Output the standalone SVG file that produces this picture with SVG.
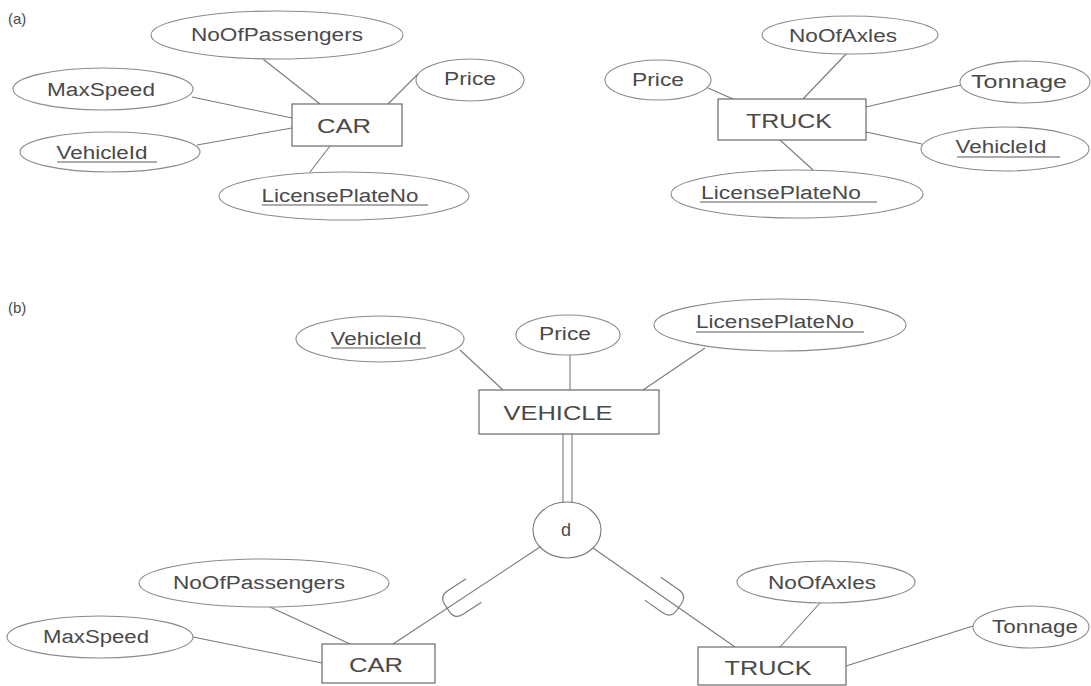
<svg xmlns="http://www.w3.org/2000/svg" width="1091" height="686" viewBox="0 0 1091 686">
  <style>
    .attr { fill: #ffffff; stroke: #8a8a8a; stroke-width: 1.1; }
    .ent { fill: #ffffff; stroke: #6a6a6a; stroke-width: 1.2; }
    .conn line { stroke: #7a7a7a; stroke-width: 1.1; fill: none; }
    .ul { stroke: #5a5a5a; stroke-width: 1.1; }
    text { font-family: "Liberation Sans", Arial, sans-serif; fill: #4a4a4a; }
    .lbl { font-size: 18px; text-anchor: middle; }
    .ename { font-size: 21px; text-anchor: middle; }
    .tag { font-size: 15px; }
  </style>
  <defs>
    <!-- subset symbol: U shape opening along +x -->
    <path id="subset" d="M 32 -14 L 10 -14 Q 0 -14 0 -4 L 0 4 Q 0 14 10 14 L 32 14" fill="none" stroke="#7a7a7a" stroke-width="1.1"/>
  </defs>
  <rect width="1091" height="686" fill="#ffffff"/>

  <text class="tag" x="8" y="24">(a)</text>
  <text class="tag" x="8" y="313">(b)</text>

  <!-- connectors -->
  <g id="connectors" class="conn">
    <!-- (a) CAR -->
    <line x1="263" y1="59" x2="320" y2="104"/>
    <line x1="192" y1="97" x2="292" y2="118"/>
    <line x1="197" y1="145" x2="292" y2="128"/>
    <line x1="330" y1="146" x2="310" y2="172"/>
    <line x1="388" y1="104" x2="418" y2="74"/>
    <!-- (a) TRUCK -->
    <line x1="708" y1="88" x2="733" y2="99"/>
    <line x1="847" y1="53" x2="803" y2="99"/>
    <line x1="961" y1="85" x2="866" y2="107"/>
    <line x1="866" y1="132" x2="922" y2="144"/>
    <line x1="780" y1="140" x2="813" y2="170"/>
    <!-- (b) VEHICLE -->
    <line x1="460" y1="350" x2="503" y2="390"/>
    <line x1="570" y1="355" x2="570" y2="390"/>
    <line x1="705" y1="348" x2="643" y2="390"/>
    <!-- total participation (double line) -->
    <line x1="563" y1="434" x2="563" y2="503"/>
    <line x1="572" y1="434" x2="572" y2="503"/>
    <!-- specialization lines -->
    <line x1="540" y1="547" x2="393" y2="644"/>
    <line x1="593" y1="548" x2="735" y2="647"/>
    <use href="#subset" transform="translate(447,608) rotate(-33.2)"/>
    <use href="#subset" transform="translate(679,607) rotate(-145.1)"/>
    <!-- (b) CAR -->
    <line x1="270" y1="607" x2="350" y2="644"/>
    <line x1="193" y1="637" x2="322" y2="663"/>
    <!-- (b) TRUCK -->
    <line x1="820" y1="603" x2="780" y2="647"/>
    <line x1="973" y1="626" x2="846" y2="666"/>
  </g>

  <!-- (a) CAR and its attributes -->
  <g id="a-car">
    <rect class="ent" x="292" y="104" width="110" height="42"/>
    <text class="ename" x="344" y="133" textLength="54" lengthAdjust="spacingAndGlyphs">CAR</text>
  </g>
  <g id="a-car-nopass">
    <ellipse class="attr" cx="277" cy="35" rx="126" ry="24"/>
    <text class="lbl" x="277" y="41" textLength="172" lengthAdjust="spacingAndGlyphs">NoOfPassengers</text>
  </g>
  <g id="a-car-maxspeed">
    <ellipse class="attr" cx="103" cy="89" rx="90" ry="21"/>
    <text class="lbl" x="101" y="96" textLength="108" lengthAdjust="spacingAndGlyphs">MaxSpeed</text>
  </g>
  <g id="a-car-vehicleid">
    <ellipse class="attr" cx="110" cy="152" rx="90" ry="20"/>
    <text class="lbl" x="102" y="159" textLength="91" lengthAdjust="spacingAndGlyphs">VehicleId</text>
    <line class="ul" x1="57" y1="162" x2="157" y2="162"/>
  </g>
  <g id="a-car-license">
    <ellipse class="attr" cx="344" cy="196" rx="125" ry="24"/>
    <text class="lbl" x="340" y="202" textLength="157" lengthAdjust="spacingAndGlyphs">LicensePlateNo</text>
    <line class="ul" x1="262" y1="205" x2="428" y2="205"/>
  </g>
  <g id="a-car-price">
    <ellipse class="attr" cx="470" cy="80" rx="54" ry="21"/>
    <text class="lbl" x="470" y="85" textLength="52" lengthAdjust="spacingAndGlyphs">Price</text>
  </g>

  <!-- (a) TRUCK and its attributes -->
  <g id="a-truck">
    <rect class="ent" x="718" y="99" width="148" height="41"/>
    <text class="ename" x="789" y="128" textLength="86" lengthAdjust="spacingAndGlyphs">TRUCK</text>
  </g>
  <g id="a-truck-price">
    <ellipse class="attr" cx="658" cy="80" rx="53" ry="20"/>
    <text class="lbl" x="658" y="86" textLength="52" lengthAdjust="spacingAndGlyphs">Price</text>
  </g>
  <g id="a-truck-noaxles">
    <ellipse class="attr" cx="850" cy="35" rx="88" ry="19"/>
    <text class="lbl" x="843" y="42" textLength="108" lengthAdjust="spacingAndGlyphs">NoOfAxles</text>
  </g>
  <g id="a-truck-tonnage">
    <ellipse class="attr" cx="1025" cy="82" rx="65" ry="21"/>
    <text class="lbl" x="1019" y="88" textLength="96" lengthAdjust="spacingAndGlyphs">Tonnage</text>
  </g>
  <g id="a-truck-vehicleid">
    <ellipse class="attr" cx="1005" cy="149" rx="84" ry="22"/>
    <text class="lbl" x="1001" y="153" textLength="91" lengthAdjust="spacingAndGlyphs">VehicleId</text>
    <line class="ul" x1="957" y1="157" x2="1060" y2="157"/>
  </g>
  <g id="a-truck-license">
    <ellipse class="attr" cx="797" cy="194" rx="126" ry="24"/>
    <text class="lbl" x="781" y="199" textLength="160" lengthAdjust="spacingAndGlyphs">LicensePlateNo</text>
    <line class="ul" x1="700" y1="202" x2="877" y2="202"/>
  </g>

  <!-- (b) VEHICLE superclass -->
  <g id="b-vehicle">
    <rect class="ent" x="479" y="390" width="180" height="44"/>
    <text class="ename" x="558" y="420" textLength="109" lengthAdjust="spacingAndGlyphs">VEHICLE</text>
  </g>
  <g id="b-vehicle-vehicleid">
    <ellipse class="attr" cx="380" cy="339" rx="84" ry="23"/>
    <text class="lbl" x="376" y="345" textLength="91" lengthAdjust="spacingAndGlyphs">VehicleId</text>
    <line class="ul" x1="331" y1="348" x2="426" y2="348"/>
  </g>
  <g id="b-vehicle-price">
    <ellipse class="attr" cx="568" cy="335" rx="52" ry="20"/>
    <text class="lbl" x="565" y="340" textLength="52" lengthAdjust="spacingAndGlyphs">Price</text>
  </g>
  <g id="b-vehicle-license">
    <ellipse class="attr" cx="780" cy="325" rx="126" ry="26"/>
    <text class="lbl" x="775" y="328" textLength="158" lengthAdjust="spacingAndGlyphs">LicensePlateNo</text>
    <line class="ul" x1="696" y1="332" x2="864" y2="332"/>
  </g>

  <!-- disjointness circle -->
  <g id="b-disjoint">
    <ellipse class="attr" cx="567" cy="530" rx="34" ry="28" style="stroke:#777777"/>
    <text class="lbl" x="566" y="536">d</text>
  </g>

  <!-- (b) CAR subclass -->
  <g id="b-car">
    <rect class="ent" x="322" y="644" width="113" height="39"/>
    <text class="ename" x="376" y="672" textLength="54" lengthAdjust="spacingAndGlyphs">CAR</text>
  </g>
  <g id="b-car-nopass">
    <ellipse class="attr" cx="264" cy="583" rx="125" ry="24"/>
    <text class="lbl" x="259" y="589" textLength="172" lengthAdjust="spacingAndGlyphs">NoOfPassengers</text>
  </g>
  <g id="b-car-maxspeed">
    <ellipse class="attr" cx="100" cy="637" rx="93" ry="21"/>
    <text class="lbl" x="96" y="643" textLength="106" lengthAdjust="spacingAndGlyphs">MaxSpeed</text>
  </g>

  <!-- (b) TRUCK subclass -->
  <g id="b-truck">
    <rect class="ent" x="698" y="647" width="148" height="38"/>
    <text class="ename" x="768" y="675" textLength="87" lengthAdjust="spacingAndGlyphs">TRUCK</text>
  </g>
  <g id="b-truck-noaxles">
    <ellipse class="attr" cx="826" cy="582" rx="89" ry="21"/>
    <text class="lbl" x="822" y="589" textLength="108" lengthAdjust="spacingAndGlyphs">NoOfAxles</text>
  </g>
  <g id="b-truck-tonnage">
    <ellipse class="attr" cx="1031" cy="627" rx="58" ry="21"/>
    <text class="lbl" x="1035" y="633" textLength="86" lengthAdjust="spacingAndGlyphs">Tonnage</text>
  </g>
</svg>
